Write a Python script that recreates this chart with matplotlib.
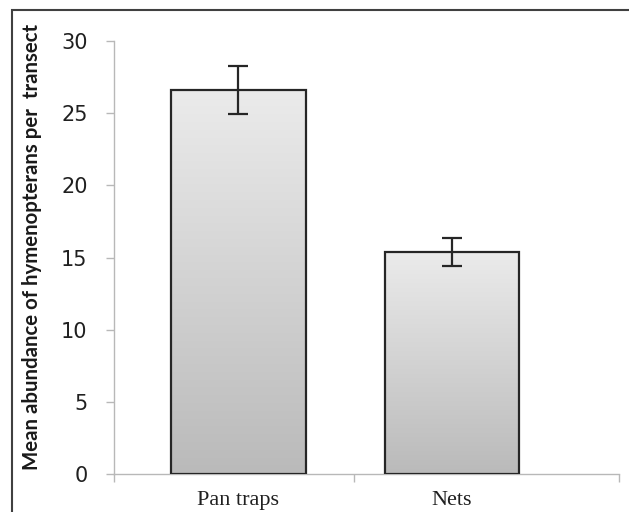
import numpy as np
import matplotlib.pyplot as plt
from matplotlib.patches import Rectangle
from matplotlib.colors import to_rgb

# values
categories = ["Pan traps", "Nets"]
means = [26.6, 15.4]
errors = [1.65, 0.97]
y_ticks = [0, 5, 10, 15, 20, 25, 30]

fig = plt.figure(figsize=(6.29, 5.12), dpi=100)
ax = fig.add_axes([114 / 629, 1 - 474 / 512, 505 / 629, 433 / 512])

x = np.arange(len(categories))
bars = ax.bar(x, means, width=0.632, color="none", edgecolor="#262626",
              linewidth=1.6, zorder=3)

# vertical grey gradient inside every bar, light at top, darker at bottom
top_c = np.array(to_rgb("#ebebeb"))
bot_c = np.array(to_rgb("#bababa"))
t = np.linspace(0, 1, 256).reshape(-1, 1, 1)
grad = top_c * (1 - t) + bot_c * t
for b in bars:
    x0, y0 = b.get_x(), b.get_y()
    w, h = b.get_width(), b.get_height()
    im = ax.imshow(grad, aspect="auto", extent=[x0, x0 + w, y0, y0 + h],
                   origin="upper", interpolation="bilinear", zorder=2)
    im.set_clip_path(b)

ax.errorbar(x, means, yerr=errors, fmt="none", ecolor="#262626",
            elinewidth=1.6, capsize=7, capthick=1.6, zorder=4)

xl, xr = -0.583, 1.782
ax.set_xlim(xl, xr)
ax.set_ylim(0, 30)
ax.set_yticks(y_ticks)

# ticks at category boundaries, labels under the bars
ax.set_xticks([xl, 0.541, xr])
ax.set_xticklabels([])
ax.set_xticks(x, minor=True)
ax.set_xticklabels(categories, minor=True, fontfamily="Liberation Serif",
                   fontsize=16, color="#202020")
ax.tick_params(axis="x", which="minor", length=0, pad=12)
ax.tick_params(axis="x", which="major", length=6, width=1, color="#b8b8b8",
               direction="out")
ax.tick_params(axis="y", length=6, width=1, color="#b8b8b8", pad=13,
               labelsize=15, labelcolor="#202020")

for side in ["top", "right"]:
    ax.spines[side].set_visible(False)
for side in ["left", "bottom"]:
    ax.spines[side].set_color("#b8b8b8")
    ax.spines[side].set_linewidth(1)

fig.text(32 / 629, 1 - 247 / 512, "Mean abundance of hymenopterans per  transect",
         rotation=90, ha="center", va="center", fontfamily="Lato",
         fontweight="bold", fontsize=14.7, color="#1a1a1a")

# outer frame of the picture
fig.patches.append(Rectangle((12 / 629, -0.05), 1, 1.05 - 9.5 / 512,
                             transform=fig.transFigure, fill=False,
                             edgecolor="#404040", linewidth=1.5))

fig.savefig("out.png", dpi=100)
